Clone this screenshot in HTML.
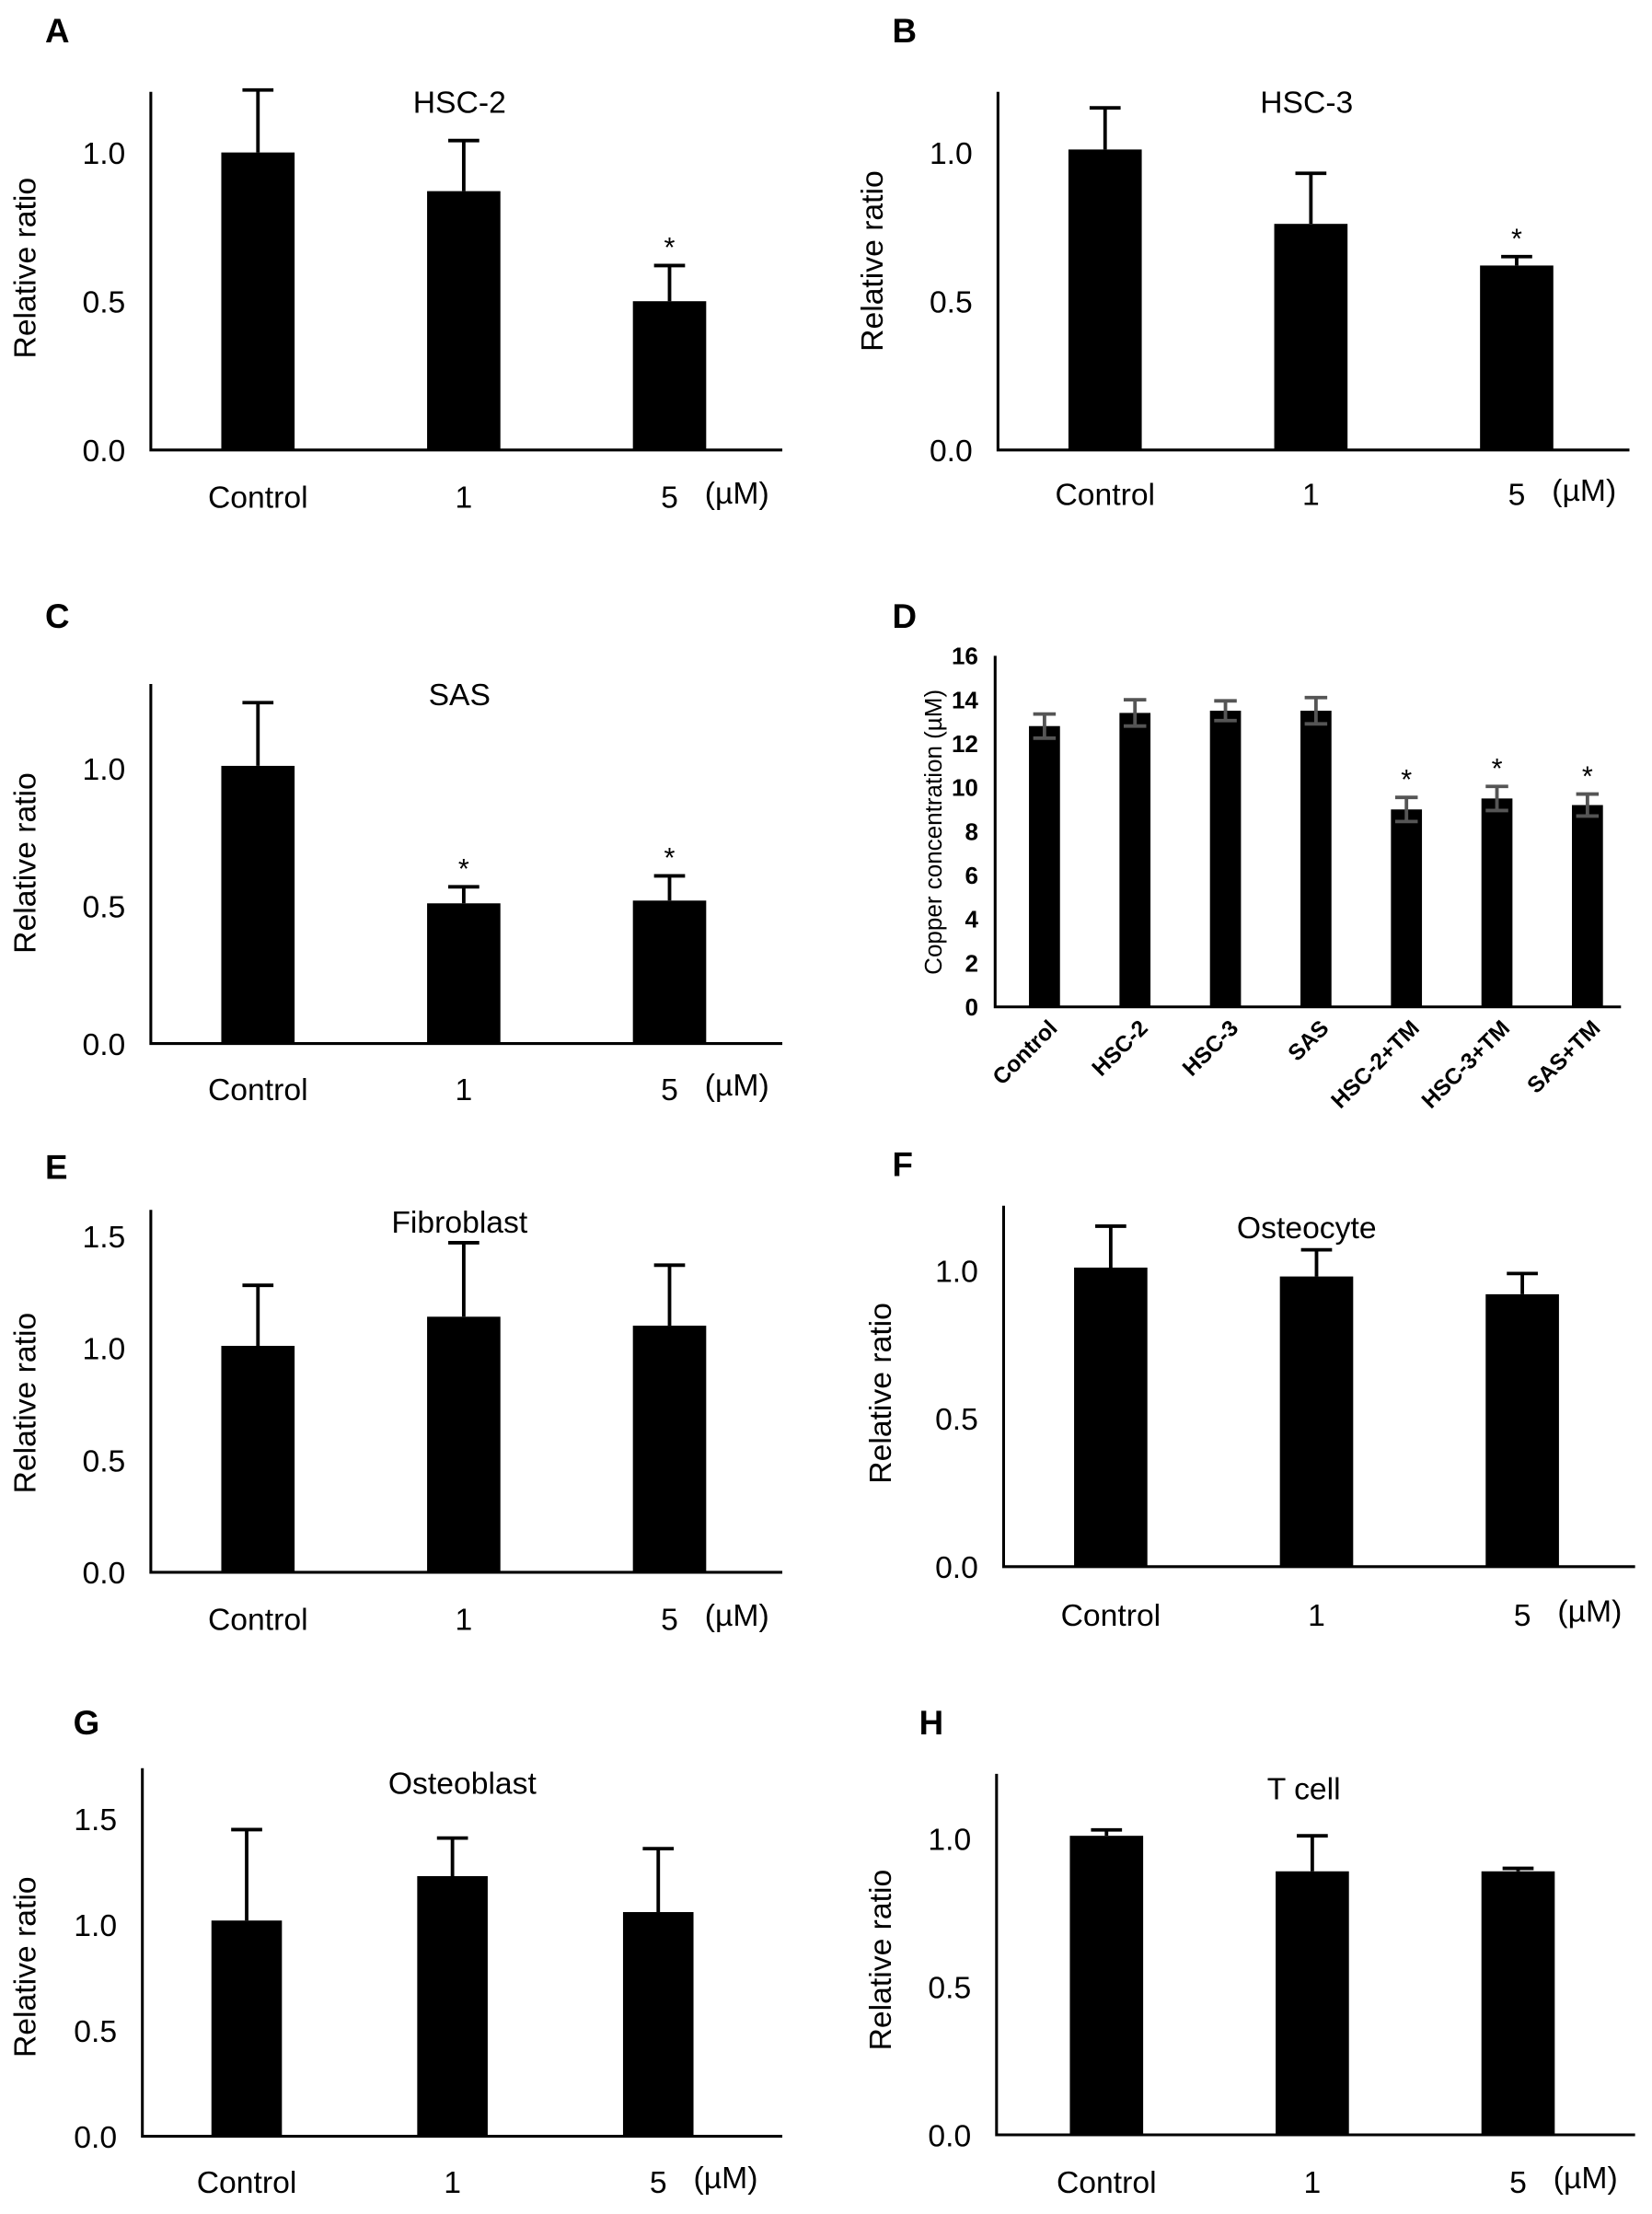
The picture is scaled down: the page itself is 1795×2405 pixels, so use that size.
<!DOCTYPE html>
<html><head><meta charset="utf-8"><style>
html,body{margin:0;padding:0;background:#fff}
svg{display:block;font-family:"Liberation Sans",Arial,sans-serif}
</style></head><body>
<svg id="fig" width="1795" height="2405" viewBox="0 0 1172 1570" xmlns="http://www.w3.org/2000/svg"></svg>
<script>
const catsStd=["Control","1","5"];
const valsA=[1.0,0.87,0.50]; const errA=[0.21,0.17,0.12];
const valsB=[1.01,0.76,0.62]; const errB=[0.14,0.17,0.03];
const valsC=[1.01,0.51,0.52]; const errC=[0.23,0.06,0.09];
const valsE=[1.01,1.14,1.10]; const errE=[0.27,0.33,0.27];
const valsF=[1.01,0.98,0.92]; const errF=[0.14,0.09,0.07];
const valsG=[1.02,1.23,1.06]; const errG=[0.43,0.18,0.30];
const valsH=[1.01,0.89,0.89]; const errH=[0.02,0.12,0.01];
const ticksStd=["0.0","0.5","1.0"];
const ticks15=["0.0","0.5","1.0","1.5"];
const catsD=["Control","HSC-2","HSC-3","SAS","HSC-2+TM","HSC-3+TM","SAS+TM"];
const valsD=[12.8,13.4,13.5,13.5,9.0,9.5,9.2];
const errD=[0.55,0.6,0.45,0.6,0.55,0.55,0.5];
const ticksD=["0","2","4","6","8","10","12","14","16"];

const svg=document.getElementById('fig');
const NS="http://www.w3.org/2000/svg";
function mk(tag,attrs,parent){const e=document.createElementNS(NS,tag);for(const k in attrs)e.setAttribute(k,attrs[k]);(parent||svg).appendChild(e);return e;}
function txt(s,attrs,parent){const e=mk('text',attrs,parent);e.textContent=s;return e;}

function panel(p){
  const g=mk('g',{});
  
  
  const y=v=>p.y0-v*p.scale;
  const lt=txt(p.id,{x:p.lx,y:p.ly,'font-size':24,'font-weight':'bold'},g);
  
  
  const ax=mk('path',{d:`M${p.ax} ${p.top} V${p.y0} H${p.xend}`,stroke:'#000','stroke-width':2,fill:'none'},g);
  
  
  p.ticks.forEach(t=>{
    const e=txt(t,{x:p.ax-(p.bold?12:18),y:y(parseFloat(t))+(p.bold?6:8),'font-size':p.bold?17:22,'font-weight':p.bold?'bold':'normal','text-anchor':'end'},g);
    
    
  });
  const yl=txt(p.ylabel,{transform:`translate(${p.ylx},${p.yly}) rotate(-90)`,'font-size':p.bold?17:22,'text-anchor':'middle'},g);
  
  
  if(p.title){const t=txt(p.title,{x:p.tx,y:p.ty,'font-size':22,'text-anchor':'middle'},g);
    
    }
  p.vals.forEach((v,i)=>{
    const cx=p.x0+i*p.step;
    const b=mk('rect',{x:cx-p.bw/2,y:y(v),width:p.bw,height:p.y0-y(v),fill:'#000'},g);
    
    
    const e=p.errs[i];
    const col=p.bold?'#555':'#000';
    const lo=p.bold?v-e:v;
    const eb=mk('path',{d:`M${cx} ${y(lo)} V${y(v+e)} M${cx-p.cap} ${y(v+e)} H${cx+p.cap}`+(p.bold?` M${cx-p.cap} ${y(lo)} H${cx+p.cap}`:''),stroke:col,'stroke-width':2.5,fill:'none'},g);
    
    
    if(p.stars&&p.stars[i]){const s=txt('*',{x:cx,y:y(v+e)-6,'font-size':20,'text-anchor':'middle'},g);
      
      }
    let c;
    if(p.bold){c=txt(p.cats[i],{transform:`translate(${cx+10},${p.y0+16}) rotate(-45)`,'font-size':16,'font-weight':'bold','text-anchor':'end'},g);}
    else{c=txt(p.cats[i],{x:cx,y:p.labY,'font-size':22,'text-anchor':'middle'},g);}
    
    
  });
  if(!p.bold){const u=txt('(µM)',{x:p.x0+2*p.step+25,y:p.labY-3,'font-size':22},g);
    
    }
}
const std={cats:catsStd,bw:52,cap:11,step:146};
panel(Object.assign({},std,{id:'A',lx:32,ly:30,ax:107,top:65,y0:319,xend:555,scale:211,ticks:ticksStd,vals:valsA,errs:errA,x0:183,title:'HSC-2',tx:326,ty:80,labY:360,ylabel:'Relative ratio',ylx:25,yly:190,stars:[0,0,1]}));
panel(Object.assign({},std,{id:'B',lx:633,ly:30,ax:708,top:65,y0:319,xend:1156,scale:211,ticks:ticksStd,vals:valsB,errs:errB,x0:784,title:'HSC-3',tx:927,ty:80,labY:358,ylabel:'Relative ratio',ylx:626,yly:185,stars:[0,0,1]}));
panel(Object.assign({},std,{id:'C',lx:32,ly:445,ax:107,top:485,y0:740,xend:555,scale:195,ticks:ticksStd,vals:valsC,errs:errC,x0:183,title:'SAS',tx:326,ty:500,labY:780,ylabel:'Relative ratio',ylx:25,yly:612,stars:[0,1,1]}));
panel({id:'D',lx:633,ly:445,ax:706,top:465,y0:714,xend:1150,scale:15.56,ticks:ticksD,vals:valsD,errs:errD,cats:catsD,x0:741,step:64.2,bw:22,cap:8,ylabel:'Copper concentration (µM)',ylx:668,yly:590,stars:[0,0,0,0,1,1,1],bold:true});
panel(Object.assign({},std,{id:'E',lx:32,ly:836,ax:107,top:858,y0:1115,xend:555,scale:159,ticks:ticks15,vals:valsE,errs:errE,x0:183,title:'Fibroblast',tx:326,ty:874,labY:1156,ylabel:'Relative ratio',ylx:25,yly:995}));
panel(Object.assign({},std,{id:'F',lx:633,ly:834,ax:712,top:855,y0:1111,xend:1160,scale:210,ticks:ticksStd,vals:valsF,errs:errF,x0:788,title:'Osteocyte',tx:927,ty:878,labY:1153,ylabel:'Relative ratio',ylx:632,yly:988}));
panel(Object.assign({},std,{id:'G',lx:52,ly:1230,ax:101,top:1254,y0:1515,xend:555,scale:150,ticks:ticks15,vals:valsG,errs:errG,x0:175,bw:50,title:'Osteoblast',tx:328,ty:1272,labY:1555,ylabel:'Relative ratio',ylx:25,yly:1395}));
panel(Object.assign({},std,{id:'H',lx:652,ly:1230,ax:707,top:1258,y0:1514,xend:1160,scale:210,ticks:ticksStd,vals:valsH,errs:errH,x0:785,title:'T cell',tx:925,ty:1276,labY:1555,ylabel:'Relative ratio',ylx:632,yly:1390}));
</script>
</body></html>
